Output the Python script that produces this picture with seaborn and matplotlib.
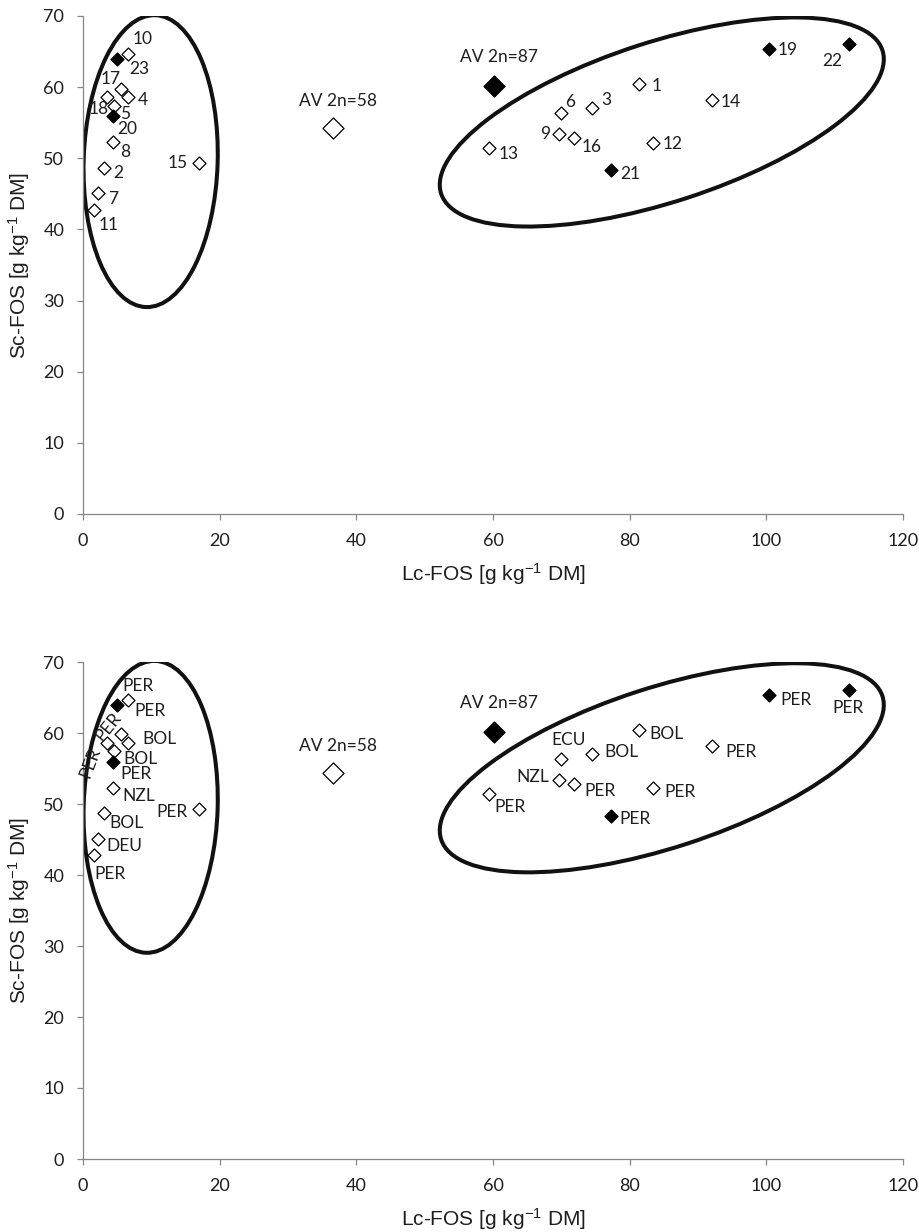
import matplotlib
matplotlib.use("Agg")
import matplotlib.pyplot as plt
import seaborn as sns
import pandas as pd
from matplotlib.patches import Ellipse
from matplotlib.transforms import Affine2D

# ---------------- data ----------------
ids = ["1", "2", "3", "4", "5", "6", "7", "8", "9", "10", "11", "12",
       "13", "14", "15", "16", "17", "18", "19", "20", "21", "22", "23"]
lc_fos = [81.3, 3.0, 74.5, 6.6, 4.5, 70.0, 2.2, 4.4, 69.6, 6.6, 1.6, 83.4,
          59.4, 92.1, 17.0, 71.8, 5.5, 3.5, 100.4, 4.4, 77.2, 112.1, 5.0]
sc_fos = [60.4, 48.7, 57.1, 58.6, 57.4, 56.4, 45.1, 52.3, 53.4, 64.6, 42.8, 52.2,
          51.4, 58.2, 49.3, 52.8, 59.8, 58.6, 65.4, 55.9, 48.3, 66.1, 64.0]
filled = [False, False, False, False, False, False, False, False, False, False,
          False, False, False, False, False, False, False, False, True, True,
          True, True, True]
countries = ["BOL", "BOL", "BOL", "BOL", "BOL", "ECU", "DEU", "NZL", "NZL", "PER",
             "PER", "PER", "PER", "PER", "PER", "PER", "PER", "PER", "PER", "PER",
             "PER", "PER", "PER"]

av_labels = ["AV 2n=58", "AV 2n=87"]
av_lc = [36.6, 60.2]
av_sc = [54.3, 60.1]
av_filled = [False, True]

x_ticks = [0, 20, 40, 60, 80, 100, 120]
y_ticks = [0, 10, 20, 30, 40, 50, 60, 70]

# ---------------- layout (pixel offsets of labels: dx right, dy down) ----------------
off_top = {"1": (17.7, 1.4), "2": (15, 5.4), "3": (14.6, -7.7), "4": (14.3, 2.7),
           "5": (11.7, 8.3), "6": (9, -11), "7": (14.7, 5.7), "8": (11.7, 10),
           "9": (-13.3, 0), "10": (14.7, -15), "11": (14.3, 15.7), "12": (20, 1.7),
           "13": (20, 5.7), "14": (18, 1.7), "15": (-21, -0.6), "16": (18.3, 9),
           "17": (-9.4, -10), "18": (-8.4, 12), "19": (19, 1.7), "20": (14.3, 12.3),
           "21": (19.3, 3.3), "22": (-16.7, 17.7), "23": (22.4, 10)}
off_bot = {"1": (27.6, 3.4), "2": (23.3, 9.7), "3": (29, -1.7), "4": (31, -4.4),
           "5": (26.6, 7.6), "6": (7.7, -19), "7": (26, 7.7), "8": (25.3, 8.6),
           "9": (-26, -2.7), "10": (10.3, -14.7), "11": (16, 18.7), "12": (27.3, 4),
           "13": (20.7, 12.7), "14": (28.4, 6), "15": (-27, 3.3), "16": (26, 6.7),
           "17": (-12.7, -7.3), "18": (-16.7, 20), "19": (26.6, 5), "20": (23.3, 12),
           "21": (24, 3.4), "22": (-1, 18.4), "23": (32.7, 6)}
rot_bot = {"17": 51, "18": 69}
av_off = [(5, -27), (5, -29)]

df = pd.DataFrame({"id": ids, "lc": lc_fos, "sc": sc_fos, "filled": filled,
                   "country": countries})
df_av = pd.DataFrame({"label": av_labels, "lc": av_lc, "sc": av_sc, "filled": av_filled})

sns.set_theme(style="ticks")
plt.rcParams["font.family"] = ["Lato", "DejaVu Sans"]
plt.rcParams["mathtext.default"] = "regular"

W, H = 920, 1232
fig = plt.figure(figsize=(W / 100, H / 100), dpi=100)
ax_left, ax_right = 83, 903
panels = [(16, 514, off_top, "id", {}), (662, 1159, off_bot, "country", rot_bot)]

GRAY = "#868686"
TXT = "#1e1e1e"
PX2PT = 0.72

for top, bottom, offs, lab_col, rots in panels:
    ax = fig.add_axes([ax_left / W, 1 - bottom / H, (ax_right - ax_left) / W,
                       (bottom - top) / H])
    sx = (ax_right - ax_left) / 120.0
    sy = (bottom - top) / 70.0

    # ellipses (in pixel geometry around a data-space centre)
    for (cx, cy, a, b, ang) in [(9.9, 49.6, 67, 146, -1.8), (84.7, 55.1, 232, 80, 18)]:
        e = Ellipse((0, 0), 2 * a, 2 * b, angle=ang, fill=False, lw=2.9,
                    edgecolor="#111111", zorder=1,
                    transform=Affine2D().scale(1 / sx, 1 / sy).translate(cx, cy) + ax.transData)
        ax.add_patch(e)

    sns.scatterplot(data=df[~df["filled"]], x="lc", y="sc", marker="D", s=44,
                    color="white", edgecolor="black", linewidth=0.9, ax=ax, zorder=3)
    sns.scatterplot(data=df[df["filled"]], x="lc", y="sc", marker="D", s=44,
                    color="black", edgecolor="black", linewidth=0.9, ax=ax, zorder=3)
    sns.scatterplot(data=df_av[~df_av["filled"]], x="lc", y="sc", marker="D", s=115,
                    color="white", edgecolor="black", linewidth=0.9, ax=ax, zorder=3)
    sns.scatterplot(data=df_av[df_av["filled"]], x="lc", y="sc", marker="D", s=115,
                    color="black", edgecolor="black", linewidth=0.9, ax=ax, zorder=3)

    for _, r in df.iterrows():
        dx, dy = offs[r["id"]]
        ax.annotate(r[lab_col], (r["lc"], r["sc"]), xytext=(dx * PX2PT, -dy * PX2PT),
                    textcoords="offset points", ha="center", va="center",
                    fontsize=12.5, color=TXT, rotation=rots.get(r["id"], 0),
                    rotation_mode="anchor", zorder=4)
    for i, r in df_av.iterrows():
        dx, dy = av_off[i]
        ax.annotate(r["label"], (r["lc"], r["sc"]), xytext=(dx * PX2PT, -dy * PX2PT),
                    textcoords="offset points", ha="center", va="center",
                    fontsize=12.5, color=TXT, zorder=4)

    ax.set_xlim(0, 120)
    ax.set_ylim(0, 70)
    ax.set_xticks(x_ticks)
    ax.set_yticks(y_ticks)
    ax.set_xticklabels([str(t) for t in x_ticks])
    ax.set_yticklabels([str(t) for t in y_ticks])
    for s in ["top", "right"]:
        ax.spines[s].set_visible(False)
    for s in ["left", "bottom"]:
        ax.spines[s].set_color(GRAY)
        ax.spines[s].set_linewidth(0.9)
    ax.tick_params(axis="both", direction="out", length=4.5, width=0.9, color=GRAY,
                   labelsize=13, labelcolor=TXT)
    ax.tick_params(axis="x", pad=9)
    ax.tick_params(axis="y", pad=9)
    ax.set_xlabel("Lc-FOS [g kg$^{-1}$ DM]", fontsize=15, color=TXT,
                  family=["Liberation Sans", "DejaVu Sans"], labelpad=9)
    ax.set_ylabel("Sc-FOS [g kg$^{-1}$ DM]", fontsize=15, color=TXT,
                  family=["Liberation Sans", "DejaVu Sans"], labelpad=8)
    ax.set_facecolor("white")

fig.savefig("out.png", dpi=100, facecolor="white")
